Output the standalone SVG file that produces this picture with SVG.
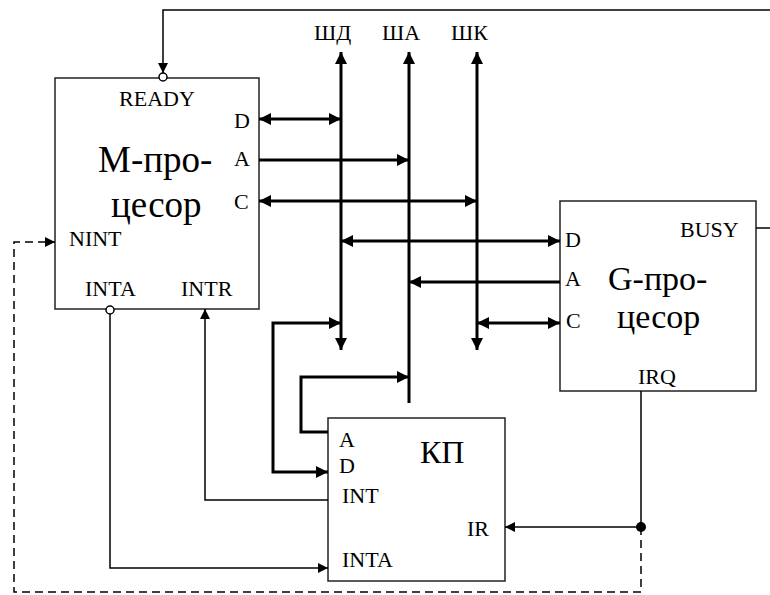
<svg xmlns="http://www.w3.org/2000/svg" width="770" height="595" viewBox="0 0 770 595">
<style>
.box{fill:#fff;stroke:#222;stroke-width:1.5}
.t{font-family:"Liberation Serif","Times New Roman",serif;font-size:22px;fill:#000}
.big{font-size:37px}
.mid{font-size:34px}
.kp{font-size:32px}
.thick{fill:none;stroke:#000;stroke-width:3}
.thin{fill:none;stroke:#000;stroke-width:1.5}
.dash{fill:none;stroke:#000;stroke-width:1.5;stroke-dasharray:8 5}
</style>
<defs>
<marker id="ah" markerUnits="userSpaceOnUse" markerWidth="13" markerHeight="12" refX="12" refY="6" orient="auto-start-reverse" viewBox="0 0 13 12">
<path d="M0,0 L12,6 L0,12 z" fill="#000"/>
</marker>
<marker id="at" markerUnits="userSpaceOnUse" markerWidth="11" markerHeight="10" refX="10" refY="5" orient="auto-start-reverse" viewBox="0 0 11 10">
<path d="M0,0 L10,5 L0,10 z" fill="#000"/>
</marker>
</defs>

<g id="m-processor">
<rect class="box" x="55" y="78" width="204" height="231"/>
<text class="t" x="157" y="106" text-anchor="middle">READY</text>
<text class="t" x="234" y="128">D</text>
<text class="t" x="234" y="166">A</text>
<text class="t" x="234" y="209">C</text>
<text class="t big" x="98" y="172">M-про-</text>
<text class="t big" x="111" y="217">цесор</text>
<text class="t" x="69" y="246">NINT</text>
<text class="t" x="85" y="296">INTA</text>
<text class="t" x="181" y="296">INTR</text>
</g>

<g id="g-processor">
<rect class="box" x="560" y="201" width="196" height="190"/>
<text class="t" x="565" y="247">D</text>
<text class="t" x="565" y="286">A</text>
<text class="t" x="566" y="328">C</text>
<text class="t" x="680" y="237">BUSY</text>
<text class="t mid" x="608" y="290">G-про-</text>
<text class="t mid" x="617" y="328">цесор</text>
<text class="t" x="638" y="384">IRQ</text>
</g>

<g id="kp">
<rect class="box" x="328" y="418" width="177" height="163"/>
<text class="t" x="339" y="447">A</text>
<text class="t" x="339" y="473">D</text>
<text class="t" x="342" y="503">INT</text>
<text class="t" x="342" y="567">INTA</text>
<text class="t" x="467" y="536">IR</text>
<text class="t kp" x="420" y="463">КП</text>
</g>

<g id="buses">
<text class="t" x="314" y="40">ШД</text>
<text class="t" x="382" y="40">ША</text>
<text class="t" x="451" y="40">ШК</text>
<line class="thick" x1="341" y1="350" x2="341" y2="52" marker-start="url(#ah)" marker-end="url(#ah)"/>
<line class="thick" x1="409" y1="403" x2="409" y2="52" marker-end="url(#ah)"/>
<line class="thick" x1="477" y1="350" x2="477" y2="52" marker-start="url(#ah)" marker-end="url(#ah)"/>
</g>

<g id="connectors">
<line class="thick" x1="259" y1="119" x2="341" y2="119" marker-start="url(#ah)" marker-end="url(#ah)"/>
<line class="thick" x1="259" y1="160" x2="409" y2="160" marker-end="url(#ah)"/>
<line class="thick" x1="259" y1="201" x2="477" y2="201" marker-start="url(#ah)" marker-end="url(#ah)"/>
<line class="thick" x1="341" y1="241" x2="560" y2="241" marker-start="url(#ah)" marker-end="url(#ah)"/>
<line class="thick" x1="560" y1="282" x2="409" y2="282" marker-end="url(#ah)"/>
<line class="thick" x1="477" y1="323" x2="560" y2="323" marker-start="url(#ah)" marker-end="url(#ah)"/>
<path class="thick" d="M341,323 H273 V472 H328" marker-start="url(#ah)" marker-end="url(#ah)"/>
<path class="thick" d="M328,432 H301 V377 H409" marker-end="url(#ah)"/>
<path class="thin" d="M770,10 H163 V73" marker-end="url(#at)"/>
<circle cx="163" cy="77" r="4" fill="#fff" stroke="#000" stroke-width="1.5"/>
<path class="thin" d="M756,228 H770"/>
<path class="thin" d="M328,500 H205 V309" marker-end="url(#at)"/>
<path class="thin" d="M110,314 V568 H328" marker-end="url(#at)"/>
<circle cx="110" cy="310" r="4" fill="#fff" stroke="#000" stroke-width="1.5"/>
<path class="thin" d="M641,391 V527 H505" marker-end="url(#at)"/>
<circle cx="641" cy="527" r="5" fill="#000"/>
<path class="dash" d="M641,527 V592 H14 V242 H55" marker-end="url(#at)"/>
</g>
</svg>
